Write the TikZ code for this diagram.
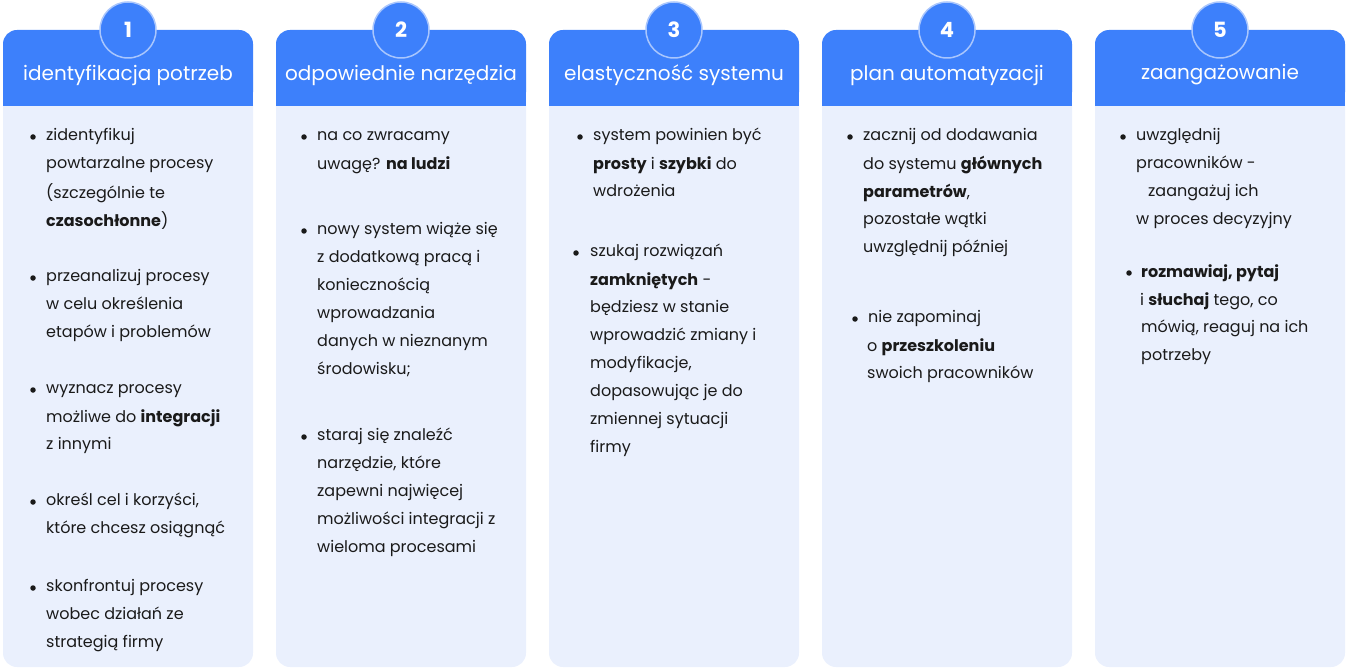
\documentclass[tikz,border=0pt]{standalone}
\usepackage{fontspec}
\setmainfont{Poppins}
\definecolor{hdr}{HTML}{3D80FB}
\definecolor{bodyc}{HTML}{EAF0FD}
\definecolor{ring}{HTML}{A9C6FD}
\definecolor{txt}{HTML}{1A1A1A}
\tikzset{
  colbody/.style={fill=bodyc,rounded corners=14pt},
  colhead/.style={fill=hdr,rounded corners=14pt},
  numc/.style={circle,fill=hdr,draw=ring,line width=1.5pt,minimum size=56pt,inner sep=0,text=white,font=\fontsize{21}{21}\selectfont\bfseries},
  htitle/.style={text=white,font=\fontsize{20}{20}\selectfont,anchor=center},
  ln/.style={anchor=west,inner sep=0,text=txt,font=\fontsize{16}{16}\selectfont},
  bul/.style={circle,fill=txt,inner sep=0,minimum size=5.5pt}
}
\newcommand{\Ln}[3]{\node[ln] at (#1,#2) {\strut #3};}
\newcommand{\Bu}[2]{\node[bul] at (#1,#2) {};}
\begin{document}
\begin{tikzpicture}[x=1pt,y=-1pt]
\useasboundingbox (0,0) rectangle (1348,668);
\foreach \i/\x in {1/3,2/276,3/549,4/822,5/1095}{
  \fill[colbody] (\x,60) rectangle (\x+250,667);
  \fill[colhead] (\x,30) rectangle (\x+250,106);
  \fill[hdr] (\x,85) rectangle (\x+250,106);
  \fill[bodyc] (\x,106) rectangle (\x+250,125);
  \node[numc] (n\i) at (\x+125,30) {\i};
}
\node[htitle] (t1) at (128,75) {identyfikacja potrzeb};
\node[htitle] (t2) at (401,75) {odpowiednie narzędzia};
\node[htitle] (t3) at (674,75) {elastyczność systemu};
\node[htitle] (t4) at (947,75) {plan automatyzacji};
\node[htitle] (t5) at (1220,75) {zaangażowanie};
% col 1
\Bu{33}{137}\Ln{46}{137}{zidentyfikuj}\Ln{46}{165}{powtarzalne procesy}\Ln{46}{193}{(szczególnie te}\Ln{46}{221}{\textbf{czasochłonne})}
\Bu{33}{278}\Ln{46}{278}{przeanalizuj procesy}\Ln{46}{306}{w celu określenia}\Ln{46}{334}{etapów i problemów}
\Bu{33}{390}\Ln{46}{390}{wyznacz procesy}\Ln{46}{418}{możliwe do \textbf{integracji}}\Ln{46}{446}{z innymi}
\Bu{33}{502}\Ln{46}{502}{określ cel i korzyści,}\Ln{46}{530}{które chcesz osiągnąć}
\Bu{33}{588}\Ln{46}{588}{skonfrontuj procesy}\Ln{46}{616}{wobec działań ze}\Ln{46}{644}{strategią firmy}
% col 2
\Bu{304}{137}\Ln{317}{137}{na co zwracamy}\Ln{317}{165}{uwagę? \textbf{na ludzi}}
\Bu{304}{231}\Ln{317}{231}{nowy system wiąże się}\Ln{317}{259}{z dodatkową pracą i}\Ln{317}{287}{koniecznością}\Ln{317}{315}{wprowadzania}\Ln{317}{343}{danych w nieznanym}\Ln{317}{371}{środowisku;}
\Bu{304}{437}\Ln{317}{437}{staraj się znaleźć}\Ln{317}{465}{narzędzie, które}\Ln{317}{493}{zapewni najwięcej}\Ln{317}{521}{możliwości integracji z}\Ln{317}{549}{wieloma procesami}
% col 3
\Bu{580}{137}\Ln{593}{137}{system powinien być}\Ln{593}{165}{\textbf{prosty} i \textbf{szybki} do}\Ln{593}{193}{wdrożenia}
\Bu{576}{253}\Ln{590}{253}{szukaj rozwiązań}\Ln{590}{281}{\textbf{zamkniętych} -}\Ln{590}{309}{będziesz w stanie}\Ln{590}{337}{wprowadzić zmiany i}\Ln{590}{365}{modyfikacje,}\Ln{590}{393}{dopasowując je do}\Ln{590}{421}{zmiennej sytuacji}\Ln{590}{449}{firmy}
% col 4
\Bu{850}{137}\Ln{863}{137}{zacznij od dodawania}\Ln{863}{165}{do systemu \textbf{głównych}}\Ln{863}{193}{\textbf{parametrów},}\Ln{863}{221}{pozostałe wątki}\Ln{863}{249}{uwzględnij później}
\Bu{855}{319}\Ln{868}{319}{nie zapominaj}\Ln{867}{347}{o \textbf{przeszkoleniu}}\Ln{867}{375}{swoich pracowników}
% col 5
\Bu{1123}{137}\Ln{1136}{137}{uwzględnij}\Ln{1136}{165}{pracowników -}\Ln{1148}{193}{zaangażuj ich}\Ln{1136}{221}{w proces decyzyjny}
\Bu{1129}{273}\Ln{1141}{273}{\textbf{rozmawiaj, pytaj}}\Ln{1140}{301}{i \textbf{słuchaj} tego, co}\Ln{1141}{329}{mówią, reaguj na ich}\Ln{1141}{357}{potrzeby}
\end{tikzpicture}
\end{document}
